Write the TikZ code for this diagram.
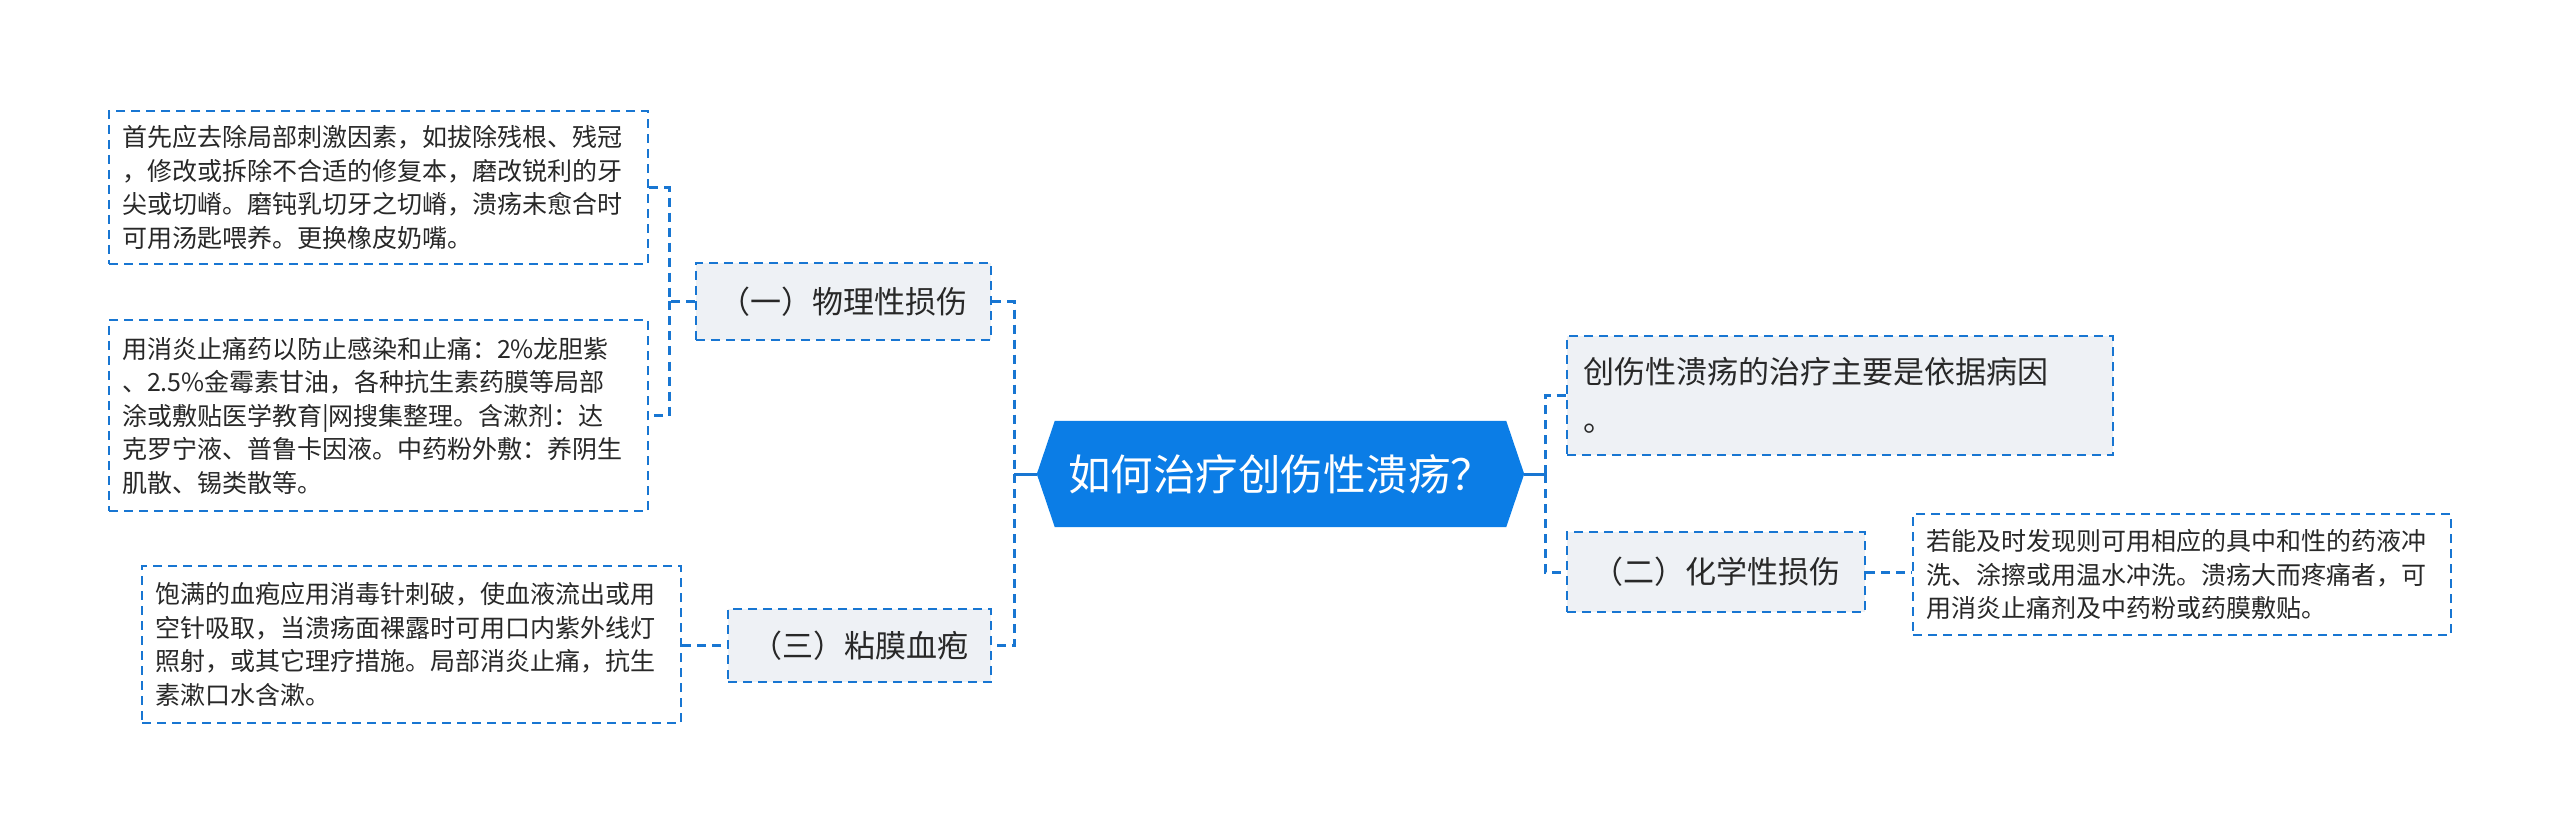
\documentclass[tikz,border=0pt]{standalone}
\usepackage{fontspec}
\setmainfont{Noto Sans CJK SC}
\definecolor{lineblue}{RGB}{24,118,210}
\definecolor{mainblue}{RGB}{11,125,230}
\definecolor{boxgray}{RGB}{238,241,245}
\definecolor{txt}{RGB}{40,40,40}
\tikzset{
  dbox/.style={draw=lineblue, line width=2.2pt, dash pattern=on 9pt off 6pt, inner sep=0pt, text=txt},
  leafbox/.style={dbox, align=left, font=\fontsize{25}{33.5}\selectfont},
  branchbox/.style={dbox, fill=boxgray, align=center, font=\fontsize{31}{48}\selectfont},
  conn/.style={draw=lineblue, line width=3pt, dash pattern=on 9pt off 6pt},
  solidconn/.style={draw=lineblue, line width=3pt},
}
\begin{document}
\begin{tikzpicture}[x=1pt,y=-1pt]
\useasboundingbox[fill=white] (0,0) rectangle (2560,834);
% central
\node[minimum width=487pt, minimum height=106pt, inner sep=0pt] (c) at (1280.5,474) {};
\fill[mainblue] ([xshift=18pt]c.north west) -- ([xshift=-18pt]c.north east) -- (c.east) -- ([xshift=-18pt]c.south east) -- ([xshift=18pt]c.south west) -- (c.west) -- cycle;
\node[text=white, font=\fontsize{42.5}{48}\selectfont] at (c.center) {如何治疗创伤性溃疡？};
% left branches
\node[branchbox, minimum width=295pt, minimum height=77pt] (b1) at (843.5,301.5) {（一）物理性损伤};
\node[branchbox, minimum width=263pt, minimum height=73pt] (b3) at (859.5,645.5) {（三）粘膜血疱};
% left leaves
\node[leafbox, minimum width=539pt, minimum height=153pt, text width=513pt] (l1) at (378.5,187.5) {首先应去除局部刺激因素，如拔除残根、残冠\\，修改或拆除不合适的修复本，磨改锐利的牙\\尖或切嵴。磨钝乳切牙之切嵴，溃疡未愈合时\\可用汤匙喂养。更换橡皮奶嘴。};
\node[leafbox, minimum width=539pt, minimum height=191pt, text width=513pt] (l2) at (378.5,415.5) {用消炎止痛药以防止感染和止痛：2\%龙胆紫\\、2.5\%金霉素甘油，各种抗生素药膜等局部\\涂或敷贴医学教育|网搜集整理。含漱剂：达\\克罗宁液、普鲁卡因液。中药粉外敷：养阴生\\肌散、锡类散等。};
\node[leafbox, minimum width=539pt, minimum height=157pt, text width=513pt] (l3) at (411.5,644.5) {饱满的血疱应用消毒针刺破，使血液流出或用\\空针吸取，当溃疡面裸露时可用口内紫外线灯\\照射，或其它理疗措施。局部消炎止痛，抗生\\素漱口水含漱。};
% right branches
\node[branchbox, align=left, text width=514pt, minimum width=546pt, minimum height=119pt] (r1) at (1840,395.5) {创伤性溃疡的治疗主要是依据病因\\。};
\node[branchbox, minimum width=298pt, minimum height=80pt] (b2) at (1716,572) {（二）化学性损伤};
\node[leafbox, minimum width=538pt, minimum height=121pt, text width=512pt] (l4) at (2182,574.5) {若能及时发现则可用相应的具中和性的药液冲\\洗、涂擦或用温水冲洗。溃疡大而疼痛者，可\\用消炎止痛剂及中药粉或药膜敷贴。};
% junctions
\coordinate (lj) at (1014,474);
\coordinate (lj1) at (669,301.5);
\coordinate (rj) at (1545,474);
% connectors
\draw[solidconn] (c.west) -- (lj);
\draw[conn] (b1.east) -| (lj);
\draw[conn] (lj) |- (b3.east);
\draw[conn] (b1.west) -- (lj1);
\draw[conn] (l1.east) -| (lj1);
\draw[conn] (lj1) |- (l2.east);
\draw[conn] (l3.east |- b3.west) -- (b3.west);
\draw[solidconn] (c.east) -- (rj);
\draw[conn] (rj) |- (r1.west);
\draw[conn] (rj) |- (b2.west);
\draw[conn] (b2.east) -- (l4.west |- b2.east);
\end{tikzpicture}
\end{document}
